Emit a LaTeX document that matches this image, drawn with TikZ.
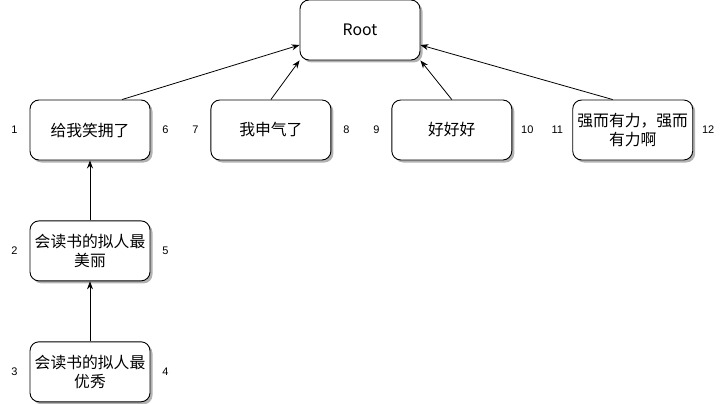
\documentclass[tikz,border=0pt]{standalone}
\usepackage{fontspec}
\setmainfont{Noto Sans CJK SC}
\newfontfamily\numfont{Liberation Sans}
\usepackage{tikz}
\usetikzlibrary{arrows.meta,positioning,shadows}

\begin{document}
\begin{tikzpicture}[>={Stealth[length=8pt,width=6pt]}, x=1pt, y=-1pt, node distance=60pt,
  box/.style={draw, line width=0.9pt, rounded corners=9pt, fill=white, minimum width=120pt, minimum height=60pt, inner sep=2pt, align=center, font=\fontsize{15.8pt}{19pt}\selectfont, drop shadow={shadow xshift=2.5pt, shadow yshift=-2.5pt, fill=black!30, opacity=1}},
  num/.style={font=\numfont\fontsize{11pt}{12pt}\selectfont, inner sep=0pt},
  link/.style={->, line width=0.8pt}]
\useasboundingbox (0,0) rectangle (720,404);
\node[box] (root) at (360,30) {Root};
\node[box] (hug) at (90,130) {给我笑拥了};
\node[box, right=of hug] (angry) {我申气了};
\node[box, right=of angry] (good) {好好好};
\node[box, right=of good] (strong) {强而有力，强而\\有力啊};
\node[box, below=of hug] (pretty) {会读书的拟人最\\美丽};
\node[box, below=of pretty] (best) {会读书的拟人最\\优秀};
% side numbers
\node[num] (n1) at ([xshift=-15pt]hug.west) {1};
\node[num] (n6) at ([xshift=15pt]hug.east) {6};
\node[num] (n7) at ([xshift=-15pt]angry.west) {7};
\node[num] (n8) at ([xshift=15pt]angry.east) {8};
\node[num] (n9) at ([xshift=-15pt]good.west) {9};
\node[num] (n10) at ([xshift=15pt]good.east) {10};
\node[num] (n11) at ([xshift=-15pt]strong.west) {11};
\node[num] (n12) at ([xshift=15pt]strong.east) {12};
\node[num] (n2) at ([xshift=-15pt]pretty.west) {2};
\node[num] (n5) at ([xshift=15pt]pretty.east) {5};
\node[num] (n3) at ([xshift=-15pt]best.west) {3};
\node[num] (n4) at ([xshift=15pt]best.east) {4};
% links
\draw[link] ([xshift=32pt]hug.north) -- ([yshift=-15pt]root.west);
\draw[link] (angry.north) -- (root.south west);
\draw[link] (good.north) -- (root.south east);
\draw[link] ([xshift=-20pt]strong.north) -- ([yshift=-15pt]root.east);
\draw[link] (pretty) -- (hug);
\draw[link] (best) -- (pretty);
\end{tikzpicture}
\end{document}
